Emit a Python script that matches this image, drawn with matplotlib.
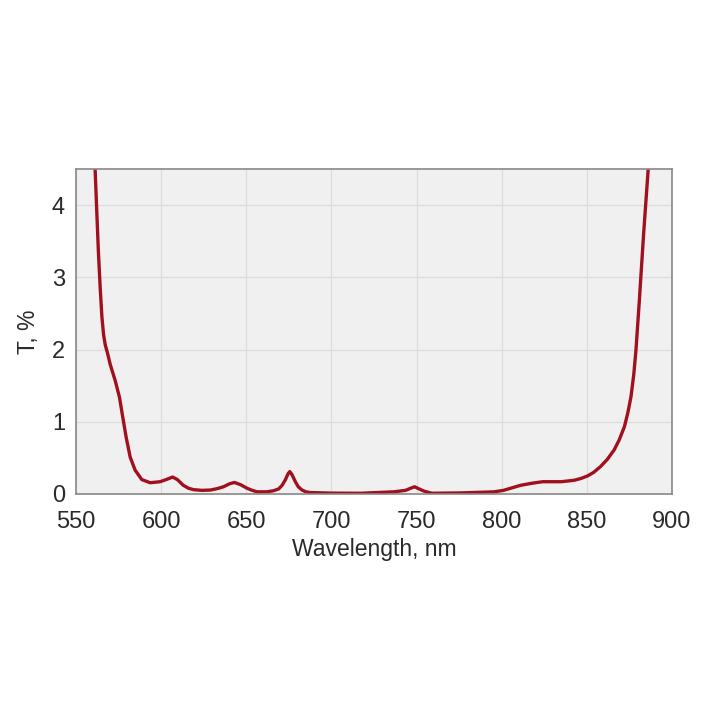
import matplotlib.pyplot as plt

plt.rcParams["font.family"] = ["Liberation Sans", "DejaVu Sans"]

wavelength = [559.5, 561.2, 562.2, 563.1, 564.2, 565.2, 566.2, 567.2, 568.5, 570.0,
              573.0, 575.5, 577.4, 579.4, 581.8, 584.7, 588.6, 593.5, 599.4, 603.0,
              606.7, 609.5, 613.0, 616.0, 619.0, 624.0, 629.0, 633.0, 636.6, 640.0,
              643.0, 646.5, 650.4, 653.5, 656.3, 662.0, 666.0, 669.0, 671.0, 673.0,
              674.5, 675.5, 676.8, 678.8, 680.5, 682.7, 685.0, 687.6, 700.0, 717.0,
              736.6, 743.5, 746.5, 748.8, 751.5, 754.3, 759.0, 776.0, 795.5, 801.0,
              806.0, 811.0, 818.0, 824.0, 835.0, 842.5, 846.5, 850.4, 854.0, 858.0,
              862.0, 866.0, 869.0, 872.0, 874.0, 875.9, 877.5, 878.8, 880.8, 883.3,
              886.0, 887.5]
transmission = [5.5, 4.5, 3.9, 3.37, 2.85, 2.45, 2.2, 2.06, 1.95, 1.80,
                1.57, 1.34, 1.07, 0.79, 0.51, 0.33, 0.20, 0.156, 0.17, 0.20,
                0.235, 0.20, 0.12, 0.08, 0.06, 0.05, 0.055, 0.075, 0.10, 0.14,
                0.16, 0.13, 0.08, 0.05, 0.03, 0.03, 0.045, 0.07, 0.12, 0.20,
                0.28, 0.31, 0.27, 0.17, 0.10, 0.055, 0.03, 0.02, 0.012, 0.01,
                0.03, 0.05, 0.08, 0.10, 0.07, 0.04, 0.01, 0.015, 0.03, 0.05,
                0.085, 0.12, 0.15, 0.17, 0.17, 0.19, 0.215, 0.25, 0.30, 0.38,
                0.48, 0.61, 0.75, 0.93, 1.12, 1.35, 1.65, 1.99, 2.68, 3.6,
                4.5, 5.2]

xticks = [550, 600, 650, 700, 750, 800, 850, 900]
yticks = [0, 1, 2, 3, 4]

fig = plt.figure(figsize=(7.2, 7.2), dpi=100)
ax = fig.add_axes([0.1056, 0.3139, 0.8278, 0.4514])
ax.set_facecolor("#f0f0f0")

ax.plot(wavelength, transmission, color="#a0101e", linewidth=2.4,
        solid_capstyle="round", solid_joinstyle="round")

ax.set_xlim(550, 900)
ax.set_ylim(0, 4.5)
ax.set_xticks(xticks)
ax.set_yticks(yticks)
ax.grid(True, color="#dcdcdc", linewidth=0.9)
ax.set_axisbelow(True)
ax.tick_params(length=0, labelsize=17, colors="#2a2a2a")
ax.tick_params(axis="x", pad=12)
ax.tick_params(axis="y", pad=8)
for s in ax.spines.values():
    s.set_color("#888888")
    s.set_linewidth(1.2)

ax.set_xlabel("Wavelength, nm", fontsize=16.5, color="#2a2a2a", labelpad=4)
ax.set_ylabel("T, %", fontsize=16.5, color="#2a2a2a")
ax.yaxis.set_label_coords(-0.060, 0.5)

fig.savefig("out.png", dpi=100)
